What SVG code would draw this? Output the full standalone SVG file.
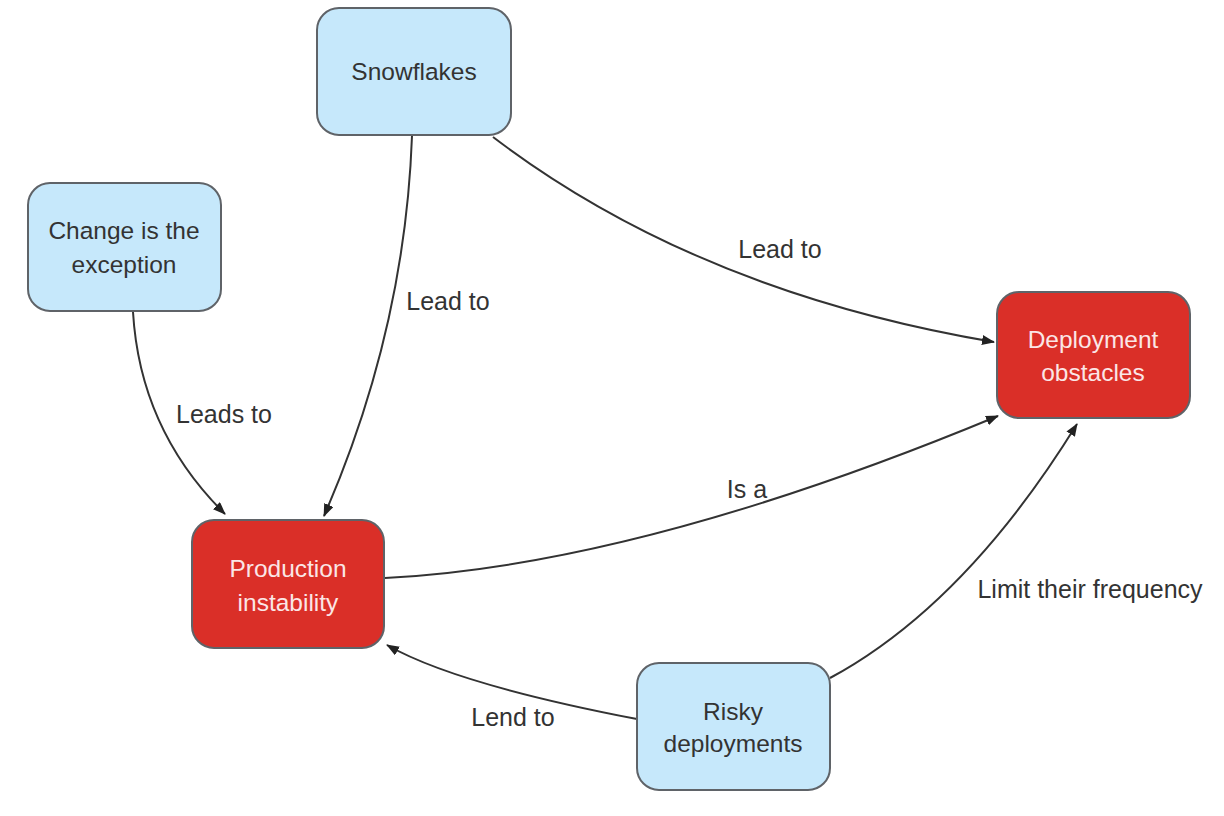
<svg xmlns="http://www.w3.org/2000/svg" width="1224" height="816" viewBox="0 0 1224 816">
<style>
  .blue rect { fill: #c6e8fb; stroke: #5f6368; stroke-width: 2; }
  .red rect { fill: #da2f28; stroke: #5f6368; stroke-width: 2; }
  text { font-family: "Liberation Sans", Arial, sans-serif; font-size: 24.5px; text-anchor: middle; }
  .blue text { fill: #333333; }
  .red text { fill: #fbe6e6; }
  .lbl { fill: #333333; font-size: 25px; }
  .edge { fill: none; stroke: #333333; stroke-width: 2; marker-end: url(#arr); }
</style>
<defs>
  <marker id="arr" markerUnits="userSpaceOnUse" markerWidth="14" markerHeight="10" refX="12" refY="5" orient="auto">
    <path d="M0,0 L13,5 L0,10 Z" fill="#222222"/>
  </marker>
</defs>
<rect width="1224" height="816" fill="#ffffff"/>
<g id="connectors">
  <path class="edge" d="M412,136 Q405,330 324,516"/>
  <path class="edge" d="M493,137 Q697,292 994,342"/>
  <path class="edge" d="M133,312 Q140,430 225,514"/>
  <path class="edge" d="M385,578 Q639,565 998,416"/>
  <path class="edge" d="M830,678 Q965,605 1077,424"/>
  <path class="edge" d="M637,719 Q455,684 387,645"/>
  <text class="lbl" x="448" y="310">Lead to</text>
  <text class="lbl" x="780" y="258">Lead to</text>
  <text class="lbl" x="224" y="423">Leads to</text>
  <text class="lbl" x="747" y="498">Is a</text>
  <text class="lbl" x="1090" y="598">Limit their frequency</text>
  <text class="lbl" x="513" y="726">Lend to</text>
</g>
<g id="snowflakes" class="blue">
  <rect x="317" y="8" width="194" height="127" rx="22"/>
  <text x="414" y="80">Snowflakes</text>
</g>
<g id="change" class="blue">
  <rect x="28" y="183" width="193" height="128" rx="22"/>
  <text x="124" y="239">Change is the</text>
  <text x="124" y="273">exception</text>
</g>
<g id="deployment-obstacles" class="red">
  <rect x="997" y="292" width="193" height="126" rx="22"/>
  <text x="1093" y="348">Deployment</text>
  <text x="1093" y="381">obstacles</text>
</g>
<g id="production-instability" class="red">
  <rect x="192" y="520" width="192" height="128" rx="22"/>
  <text x="288" y="577">Production</text>
  <text x="288" y="611">instability</text>
</g>
<g id="risky-deployments" class="blue">
  <rect x="637" y="663" width="193" height="127" rx="22"/>
  <text x="733" y="720">Risky</text>
  <text x="733" y="752">deployments</text>
</g>
</svg>
